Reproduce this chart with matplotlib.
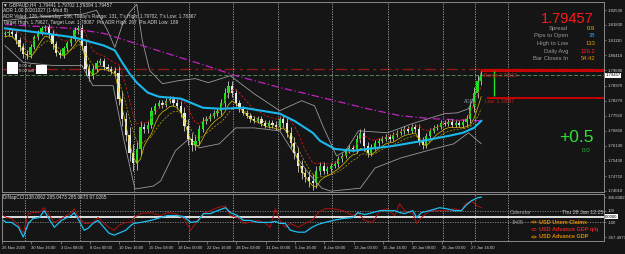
import matplotlib.pyplot as plt
import pandas as pd

W, H = 625, 254
BG = '#151515'
FONT = ['Liberation Sans', 'DejaVu Sans']

# GBPAUD H4, one candle per two bars (close prices)
closes = [1.8143, 1.8148, 1.8138, 1.8110, 1.8077, 1.8048, 1.8039, 1.8081, 1.8124, 1.8148,
          1.8167, 1.8171, 1.8138, 1.8091, 1.8053, 1.8039, 1.8072, 1.8096, 1.8119, 1.8157,
          1.8167, 1.8086, 1.7977, 1.7944, 1.7977, 1.8006, 1.8015, 1.7987, 1.7977, 1.7968,
          1.7958, 1.7836, 1.7741, 1.7665, 1.7580, 1.7533, 1.7599, 1.7703, 1.7694, 1.7713,
          1.7779, 1.7802, 1.7817, 1.7807, 1.7826, 1.7836, 1.7817, 1.7802, 1.7769, 1.7708,
          1.7646, 1.7618, 1.7637, 1.7694, 1.7731, 1.7741, 1.7755, 1.7769, 1.7779, 1.7817,
          1.7864, 1.7897, 1.7864, 1.7817, 1.7788, 1.7769, 1.7755, 1.7741, 1.7731, 1.7741,
          1.7722, 1.7708, 1.7722, 1.7713, 1.7703, 1.7741, 1.7722, 1.7675, 1.7627, 1.7580,
          1.7519, 1.7485, 1.7467, 1.7448, 1.7438, 1.7495, 1.7519, 1.7495, 1.7504, 1.7519,
          1.7528, 1.7552, 1.7566, 1.7590, 1.7604, 1.7599, 1.7646, 1.7675, 1.7613, 1.7580,
          1.7608, 1.7627, 1.7637, 1.7646, 1.7656, 1.7646, 1.7665, 1.7675, 1.7684, 1.7694,
          1.7684, 1.7703, 1.7694, 1.7637, 1.7618, 1.7660, 1.7684, 1.7698, 1.7703, 1.7722,
          1.7717, 1.7727, 1.7713, 1.7722, 1.7713, 1.7727, 1.7741, 1.7798, 1.7864, 1.7921,
          1.79457]
first_open = 1.8140
# wick length above/below the body, in pips
wick_pips = [12, 10, 14, 16, 18, 20, 15, 14, 12, 10, 12,
             14, 18, 20, 16, 14, 12, 12, 10, 14, 16,
             22, 28, 24, 18, 14, 12, 14, 12, 14, 16,
             30, 35, 30, 36, 40, 32, 28, 20, 18, 16,
             14, 12, 14, 12, 12, 14, 16, 22, 26, 30,
             28, 24, 18, 16, 14, 12, 12, 14, 18, 22,
             24, 20, 16, 14, 12, 12, 14, 12, 12, 14,
             12, 12, 14, 16, 14, 18, 22, 26, 28, 30,
             28, 26, 30, 32, 24, 18, 16, 14, 14, 12,
             12, 14, 12, 12, 14, 18, 20, 22, 18, 14,
             12, 12, 12, 12, 14, 12, 12, 12, 14, 12,
             12, 14, 20, 18, 14, 12, 12, 12, 12, 12,
             12, 12, 12, 12, 14, 18, 22, 26, 24, 20]

# indicator lines (bar position, price)
ma_fast_x = [0, 11, 19, 27, 30, 32, 34, 36, 39, 42, 48, 54, 59, 65, 70, 75, 79, 84, 86, 90,
             95, 99, 106, 114, 121, 125, 128, 130]
ma_fast_y = [1.8167, 1.8143, 1.8124, 1.8086, 1.8063, 1.8006, 1.7954, 1.7911, 1.7864, 1.7845,
             1.7836, 1.7793, 1.7788, 1.7793, 1.7779, 1.7765, 1.7731, 1.7675, 1.7637, 1.7599,
             1.7590, 1.7599, 1.7613, 1.7637, 1.7660, 1.7675, 1.7698, 1.7731]
ma_slow_x = [0, 18, 27, 40, 54, 63, 75, 81, 90, 99, 108, 117, 130]
ma_slow_y = [1.8185, 1.8167, 1.8143, 1.8072, 1.7996, 1.7944, 1.7888, 1.7864, 1.7826, 1.7788,
             1.7755, 1.7741, 1.7731]
bb_up_x = [0, 8, 16, 21, 25, 28, 30, 32, 34, 36, 37.5, 39.5, 43, 47.5, 52, 55.5, 61.5, 68, 75,
           81, 84.5, 87, 90.5, 93, 96.5, 104.5, 111, 120, 123.5, 126.5, 128.5, 130]
bb_up_y = [1.8204, 1.8219, 1.8228, 1.8233, 1.8252, 1.8157, 1.8077, 1.8181, 1.8242, 1.8280,
           1.8110, 1.7968, 1.7906, 1.7921, 1.7930, 1.7911, 1.7944, 1.7859, 1.7779, 1.7826,
           1.7802, 1.7698, 1.7566, 1.7590, 1.7684, 1.7675, 1.7717, 1.7765, 1.7769, 1.7788,
           1.7864, 1.7958]
bb_lo_x = [0, 5, 13, 21, 24, 29.5, 32.5, 35.5, 40.5, 42.5, 46.5, 50.5, 53, 58.5, 63, 68, 75,
           79, 83, 86.5, 89, 97, 101, 108, 117, 122.5, 126.5, 130]
bb_lo_y = [1.8086, 1.8006, 1.7992, 1.7992, 1.7897, 1.7897, 1.7637, 1.7410, 1.7424, 1.7448,
           1.7590, 1.7651, 1.7604, 1.7623, 1.7698, 1.7698, 1.7684, 1.7575, 1.7481, 1.7414,
           1.7400, 1.7414, 1.7509, 1.7556, 1.7599, 1.7623, 1.7675, 1.7623]

# CCI sub-window
cci_x = [-0.4, 0.4, 1.8, 3.7, 5.0, 6.4, 7.7, 9.4, 10.7, 11.8, 13.5, 15.4, 18.1, 18.9, 20.2,
         21.6, 22.7, 24.0, 25.4, 27.0, 28.4, 29.8, 31.1, 33.0, 34.4, 35.2, 37.1, 39.8, 42.5,
         44.4, 46.6, 48.8, 50.7, 52.6, 54.2, 56.1, 58.0, 60.2, 61.5, 63.5, 65.1, 67.0, 69.2,
         71.1, 72.4, 73.8, 75.1, 76.5, 77.9, 80.0, 81.9, 83.8, 85.5, 87.4, 89.5, 92.3, 95.0,
         96.3, 98.2, 100.4, 102.3, 104.2, 106.4, 107.7, 109.1, 111.3, 112.4, 113.7, 115.9,
         118.6, 120.5, 122.7, 124.6, 125.7, 127.3, 128.9, 130.0]
cci_main = [-68, -102, -102, -187, -357, -119, -34, -17, 102, -17, -187, -68, 17, 68, -68,
            -238, -204, -119, -68, -187, -289, -323, -289, -238, -153, -119, -102, -68, -17,
            17, 17, 0, -102, -85, 51, 51, 102, 153, 68, 17, -68, -68, -102, -102, -102, -85,
            -119, -119, -238, -272, -272, -187, -136, -102, -68, -34, -17, 68, 34, 68, 102,
            102, 102, 68, 51, 102, -17, 68, 102, 153, 136, 102, 102, 187, 272, 323, 336]
cci_signal = [17, -17, -34, -153, -289, 51, 68, 68, 153, 51, -102, -34, 68, 136, -17, -119,
              -119, -102, -17, -119, -187, -238, -153, -102, -102, -17, 51, 68, 17, 68, 51,
              -34, -238, -68, 51, 102, 153, 187, 17, -17, -119, -102, -68, -119, -187, 136,
              -68, -187, -119, -187, -119, -68, 68, 136, 136, 102, 17, 68, -68, -102, 102, 136,
              17, 221, 102, 51, -119, -17, 102, 102, 102, 136, 102, 221, 272, 187, 153]

date_labels = ['26 Nov 2020', '30 Nov 16:00', '3 Dec 08:00', '8 Dec 00:00', '10 Dec 16:00',
               '15 Dec 08:00', '18 Dec 00:00', '22 Dec 16:00', '28 Dec 08:00', '31 Dec 00:00',
               '5 Jan 16:00', '8 Jan 08:00', '13 Jan 00:00', '15 Jan 16:00', '20 Jan 08:00',
               '25 Jan 00:00', '27 Jan 16:00']
week_lines = [5.4, 20.4, 35.3, 50.3, 62.2, 74.5, 89.4, 104.6, 119.6, 128.3, 137.2]
price_ticks = [1.8253, 1.8183, 1.8111, 1.8041, 1.7969, 1.7897, 1.7827, 1.7755, 1.7685,
               1.7613, 1.7543, 1.7471, 1.7401]

last_price = 1.79457
day_high, day_low = 1.79702, 1.78367
target_line = 1.7975

info_labels = ['Spread', 'Pips to Open', 'High to Low', 'Daily Avg', 'Bar Closes In']
info_values = ['0.9', '38', '133', '126.2', '54:42']
info_colors = ['#e0c000', '#2aa0ff', '#d8a000', '#ff2020', '#e09000']

header_lines = ['\u25bc GBPAUD,H4  1.79441 1.79702 1.79394 1.79457',
                'ADR 1.00 20201027 (1-Mod 8)',
                "ADR Value: 126, Yesterday: 166, Today's Range: 131, T's High: 1.79702, T's Low: 1.78367",
                'Target High: 1.79627, Target Low: 1.78087  Pts ADR High: 267  Pts ADR Low: 189']

plt.rcParams['font.family'] = FONT

fig = plt.figure(figsize=(W / 100, H / 100), dpi=100, facecolor=BG)
ax = fig.add_axes([2 / W, 1 - 192 / H, 602 / W, 190 / H], facecolor=BG)
ax2 = fig.add_axes([2 / W, 1 - 241 / H, 602 / W, 47 / H], facecolor=BG, sharex=ax)


def ftext(x, y, s, **kw):
    kw.setdefault('va', 'center')
    fig.text(x / W, 1 - y / H, s, **kw)


# candles
opens = [first_open] + closes[:-1]
idx = list(range(len(closes)))
highs = [max(o, c) + w * 1e-4 for o, c, w in zip(opens, closes, wick_pips)]
lows = [min(o, c) - w * 1e-4 for o, c, w in zip(opens, closes, wick_pips)]
ax.vlines(idx, lows, highs, color='#b0b0b0', lw=0.7, zorder=3)
body_bot = [min(o, c) for o, c in zip(opens, closes)]
body_h = [max(abs(c - o), 0.0001) for o, c in zip(opens, closes)]
body_col = ['#1ee01e' if c >= o else '#e8e8e8' for o, c in zip(opens, closes)]
ax.bar(idx, body_h, bottom=body_bot, width=0.6, color=body_col, lw=0, zorder=4)

# price channels following the candles
hs = pd.Series(highs)
ls = pd.Series(lows)
ax.plot(idx, hs.ewm(span=5).mean(), color='#d01818', lw=0.6, ls=(0, (3, 2)), zorder=5)
ax.plot(idx, ls.ewm(span=3).mean(), color='#d8c400', lw=0.5, zorder=5)
ax.plot(idx, ls.ewm(span=7).mean(), color='#b8a400', lw=0.5, ls=(0, (3, 2)), zorder=5)

ax.plot(bb_up_x, bb_up_y, color='#9a9a9a', lw=0.6, zorder=2)
ax.plot(bb_lo_x, bb_lo_y, color='#9a9a9a', lw=0.6, zorder=2)
ax.plot(ma_slow_x, ma_slow_y, color='#c022c0', lw=0.9, ls=(0, (6, 2, 1, 2)), zorder=2)
ax.plot(ma_fast_x, ma_fast_y, color='#1ab8ec', lw=1.5, zorder=6)

# horizontal levels
ax.axhline(target_line, color='#8e1a1a', lw=1.0, ls=(0, (8, 3, 2, 3)), zorder=1)
ax.axhline(last_price, color='#4e8a4e', lw=0.7, ls=(0, (4, 2)), zorder=1)
ax.hlines(day_high, 129.6, 163.5, color='#c80000', lw=2.2, zorder=2)
ax.hlines(day_low, 131.5, 163.5, color='#c80000', lw=1.4, zorder=2)
ax.vlines(133.6, day_low + 0.0012, day_high - 0.0003, color='#1ee01e', lw=1.0, zorder=3)
ax.text(130.8, 1.7947, 'Range 1.79613', color='#d02020', fontsize=3.4, va='center', zorder=7)
ax.text(125.4, 1.7821, 'ADR', color='#7f93a6', fontsize=3.4, va='center', zorder=7)
ax.text(130.9, 1.7821, 'Low: 1.78087', color='#d02020', fontsize=3.4, va='center', zorder=7)

for a in (ax, ax2):
    for xl in week_lines:
        a.axvline(xl, color='#a8a8a8', lw=0.6, ls=(0, (1.5, 1.5)), zorder=1)
    a.set_xlim(-0.3, 163.5)
    for s in a.spines.values():
        s.set_color('#8a8a8a')
        s.set_linewidth(0.7)
    a.yaxis.tick_right()
    a.tick_params(axis='y', colors='#8a8a8a', labelcolor='#d0d0d0', labelsize=3.1,
                  length=1.5, width=0.5, pad=1)

ax.set_ylim(1.7396, 1.8291)
ax.set_yticks(price_ticks)
ax.set_yticklabels(['%.5f' % p for p in price_ticks])
ax.tick_params(axis='x', bottom=False, labelbottom=False)
ax.text(1.002, last_price, '%.5f' % last_price, transform=ax.get_yaxis_transform(),
        fontsize=3.1, color='black', va='center', ha='left',
        bbox=dict(boxstyle='square,pad=0.15', fc='white', ec='none'), zorder=10)

# CCI window
ax2.set_ylim(-425, 391)
ax2.axhline(0, color='white', lw=1.2, zorder=3)
for lv in (100, -100):
    ax2.axhline(lv, color='#8a8a8a', lw=0.6, ls=(0, (1.5, 1.5)), zorder=1)
ax2.plot(cci_x, cci_signal, color='#b01010', lw=0.7, zorder=4)
ax2.plot(cci_x, cci_main, color='#1cc0f2', lw=0.9, zorder=5)
ax2.set_yticks([336.6082, 100, -100, -357.4973])
ax2.set_yticklabels(['336.6082', '100', '-100', '-357.4973'])
ax2.text(1.002, 0, '0.0000', transform=ax2.get_yaxis_transform(), fontsize=3.1,
         color='black', va='center', ha='left',
         bbox=dict(boxstyle='square,pad=0.15', fc='white', ec='none'), zorder=10)
ax2.set_xticks([8 * k - 0.8 for k in range(len(date_labels))])
ax2.set_xticklabels(date_labels, ha='left')
ax2.tick_params(axis='x', colors='#8a8a8a', labelcolor='#d0d0d0', labelsize=3.0,
                length=2, width=0.5, pad=1.5)

# header texts
for k, line in enumerate(header_lines):
    ftext(3, 4.5 + k * 6, line, fontsize=3.4, color='#d8d8d8', ha='left')
ftext(3, 197, 'DiNapCCI 138.0062 285.0473 285.0473 97.0265', fontsize=3.4,
      color='#d8d8d8', ha='left')

# trade buttons
for x0, y0, w, h in [(7, 62, 11, 12), (36, 65, 11, 9)]:
    fig.patches.append(plt.Rectangle((x0 / W, 1 - (y0 + h) / H), w / W, h / H,
                                     transform=fig.transFigure, fc='white', ec='none',
                                     zorder=0.5))
ftext(19, 66, '0.00 sl', fontsize=3.0, color='#d8d8d8', ha='left')
ftext(19, 71, '0.00 sell', fontsize=3.0, color='#d8d8d8', ha='left')

# info panel
ftext(594, 19, '%.5f' % last_price, fontsize=10.5, color='#ff1a1a', ha='right')
for k, (lab, val, col) in enumerate(zip(info_labels, info_values, info_colors)):
    y = 28.3 + k * 7.6
    ftext(568, y, lab, fontsize=4.2, color='#9a9a9a', ha='right')
    ftext(595, y, val, fontsize=4.2, color=col, ha='right')
ftext(594, 137, '+0.5', fontsize=12.5, color='#33e033', ha='right')
ftext(586, 150, '0.0', fontsize=4.5, color='#2db52d', ha='center')

# calendar box
ftext(510, 213, 'Calendar', fontsize=3.8, color='#a0a0a0', ha='left')
ftext(562, 213, 'Thu 28 Jan 12:25', fontsize=3.8, color='#c8c8c8', ha='left')
ftext(512, 222, '1h05', fontsize=3.8, color='#a0a0a0', ha='left')
cal_rows = [('USD Unem Claims', '#e08a00', 222), ('USD Advance GDP q/q', '#e02020', 229.5),
            ('USD Advance GDP', '#e08a00', 237)]
for txt, col, y in cal_rows:
    fig.patches.append(plt.Circle((534 / W, 1 - y / H), 2.2 / W, transform=fig.transFigure,
                                  fc='none', ec=col, lw=0.5))
    ftext(539, y, txt, fontsize=4.0, color=col, ha='left', fontweight='bold')

fig.savefig('out.png', dpi=100, facecolor=BG)
